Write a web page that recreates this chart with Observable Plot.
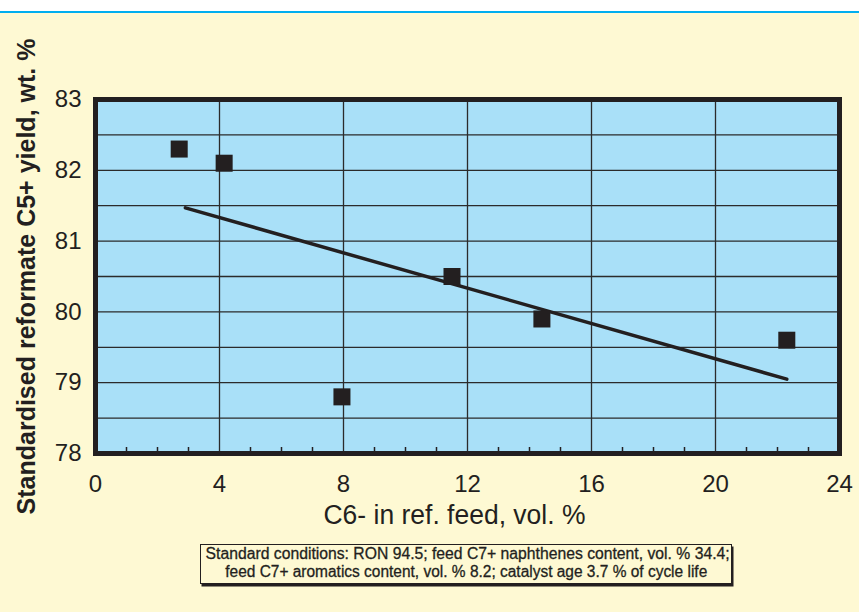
<!DOCTYPE html>
<html>
<head>
<meta charset="utf-8">
<script src="https://cdn.jsdelivr.net/npm/d3@7"></script>
<script src="https://cdn.jsdelivr.net/npm/@observablehq/plot@0.6"></script>
<style>
  html, body { margin: 0; padding: 0; }
  body { width: 859px; height: 612px; background: #fef9d3; position: relative; overflow: hidden; font-family: "Liberation Sans", Arial, sans-serif; }
  #topband { height: 11px; background: #ffffff; border-bottom: 2.5px solid #00aeef; }
  #chart svg { display: block; }
  #caption { position: absolute; left: 200px; top: 544px; width: 532px; height: 40px; border: 1.5px solid #231f20; box-shadow: 1.5px 2.5px 0 #231f20; box-sizing: border-box; text-align: center; color: #231f20; }
  #caption div { font-family: "Liberation Sans", Arial, sans-serif; font-size: 16px; line-height: 18px; white-space: nowrap; height: 18px; -webkit-text-stroke: 0.3px #231f20; }
  #caption span { display: inline-block; transform-origin: center center; }
</style>
</head>
<body>
<div id="topband"></div>
<div id="chart"></div>
<div id="caption"><div><span id="cap1"></span></div><div><span id="cap2"></span></div></div>
<script>
const xValues = [2.7, 4.15, 7.95, 11.5, 14.4, 22.3];
const yValues = [82.3, 82.1, 78.8, 80.5, 79.9, 79.6];
const trendX = [2.9, 22.3];
const trendY = [81.47, 79.05];
const xTicks = [0, 4, 8, 12, 16, 20, 24];
const yTicks = [78, 79, 80, 81, 82, 83];
const xGrid = [4, 8, 12, 16, 20];
const yGrid = [78.5, 79, 79.5, 80, 80.5, 81, 81.5, 82, 82.5];
const xMinor = [1, 2, 3, 5, 6, 7, 9, 10, 11, 13, 14, 15, 17, 18, 19, 21, 22, 23];
const xTitle = "C6- in ref. feed, vol. %";
const yTitle = "Standardised reformate C5+ yield, wt. %";
const captionLines = [
  "Standard conditions: RON 94.5; feed C7+ naphthenes content, vol. % 34.4;",
  "feed C7+ aromatics content, vol. % 8.2; catalyst age 3.7 % of cycle life"
];

const points = xValues.map((x, i) => ({x, y: yValues[i]}));
const trend = trendX.map((x, i) => ({x, y: trendY[i]}));
const ink = "#231f20";

const chart = Plot.plot({
  width: 859,
  height: 530,
  marginTop: 86,
  marginBottom: 90,
  marginLeft: 95,
  marginRight: 20,
  x: {domain: [0, 24]},
  y: {domain: [78, 83]},
  style: {background: "transparent", fontFamily: "'Liberation Sans', Arial, sans-serif", color: ink, overflow: "visible"},
  marks: [
    Plot.frame({fill: "#a9e0f8", stroke: null}),
    Plot.ruleY(yGrid, {stroke: "#2b2b2b", strokeWidth: 1.3}),
    Plot.ruleX(xGrid, {stroke: "#2b2b2b", strokeWidth: 1.3}),
    Plot.ruleX(xMinor, {y1: 78, y2: 78.085, stroke: ink, strokeWidth: 1.5}),
    Plot.line(trend, {x: "x", y: "y", stroke: ink, strokeWidth: 3.5}),
    Plot.dot(points, {x: "x", y: "y", symbol: "square", r: 9.6, fill: ink, stroke: null}),
    Plot.frame({stroke: ink, strokeWidth: 5}),
    Plot.axisX({ticks: xTicks, tickSize: 0, tickPadding: 21, fontSize: 24, label: null, tickFormat: d => String(d)}),
    Plot.axisY({ticks: yTicks, tickSize: 0, tickPadding: 14, fontSize: 24, label: null, tickFormat: d => String(d)}),
    Plot.text([xTitle], {text: d => d, frameAnchor: "bottom", textAnchor: "middle", dy: 70, dx: -13, fontSize: 27, fill: ink, className: "xtitle"}),
    Plot.text([yTitle], {text: d => d, frameAnchor: "left", textAnchor: "middle", dx: -69, rotate: -90, fontSize: 25, fontWeight: "bold", fill: ink})
  ]
});
document.getElementById("chart").appendChild(chart);

// condense the x title to the narrow width seen in the reference
const xt = chart.querySelector(".xtitle text");
if (xt) { xt.setAttribute("textLength", 262); xt.setAttribute("lengthAdjust", "spacingAndGlyphs"); }

const caps = [document.getElementById("cap1"), document.getElementById("cap2")];
caps.forEach((el, i) => {
  el.textContent = captionLines[i];
});
const targets = [524, 482];
caps.forEach((el, i) => {
  const w = el.getBoundingClientRect().width;
  if (w > 0) el.style.transform = `scaleX(${targets[i] / w})`;
});
</script>
</body>
</html>
